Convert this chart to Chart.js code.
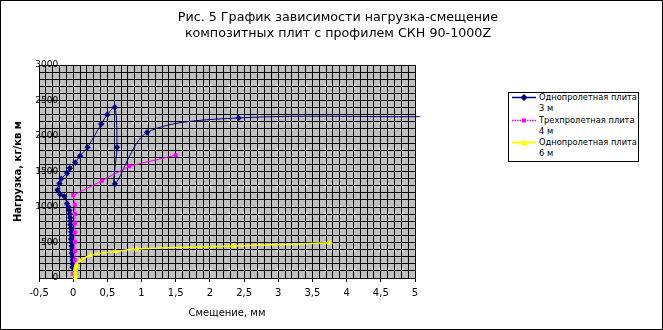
<!DOCTYPE html>
<html>
<head>
<meta charset="utf-8">
<script src="https://cdn.jsdelivr.net/npm/chart.js@4"></script>
<style>
  body { margin: 0; background: #fff; }
  #wrap { position: relative; width: 663px; height: 330px; font-family: "DejaVu Sans", sans-serif; color: #000; }
  #frame { position: absolute; left: 0; top: 0; width: 663px; height: 330px; box-sizing: border-box; border: 1px solid #000; pointer-events: none; }
  #title { position: absolute; left: 118px; width: 440px; top: 9px; text-align: center; font-size: 12.7px; line-height: 16px; }
  #legend { position: absolute; left: 508px; top: 92px; width: 131px; height: 70px; box-sizing: border-box; border: 1px solid #000; background: #fff; font-size: 8.3px; overflow: hidden; }
  .item { position: absolute; left: 0; width: 130px; height: 22px; }
  .item svg { position: absolute; left: 3px; top: 0; }
  .item .txt { position: absolute; left: 30px; top: 0; line-height: 11px; white-space: nowrap; }
</style>
</head>
<body>
<div id="wrap">
  <canvas id="grafiek" width="663" height="330"></canvas>
  <div id="title">Рис. 5 График зависимости нагрузка-смещение<br>композитных плит с профилем СКН 90-1000Z</div>
  <div id="legend"></div>
  <div id="frame"></div>
</div>
<script>
// Однопролетная плита 3 м
const plita3X = [-0.01, -0.01, -0.01, -0.015, -0.02, -0.02, -0.02, -0.025, -0.03, -0.03, -0.03, -0.035, -0.04, -0.04, -0.045, -0.05, -0.055, -0.07, -0.09, -0.13, -0.19, -0.23, -0.2, -0.175, -0.09, -0.05, 0.03, 0.1, 0.21, 0.41, 0.5, 0.61, 0.64, 0.61, 1.08, 2.42, 5.07];
const plita3Y = [150, 200, 250, 300, 350, 400, 450, 500, 550, 600, 650, 700, 750, 800, 850, 900, 950, 1000, 1050, 1150, 1180, 1240, 1330, 1400, 1475, 1545, 1625, 1720, 1840, 2170, 2300, 2405, 1840, 1325, 2050, 2255, 2272];
// Трехпролетная плита 4 м
const plita4X = [0.0, 0.025, 0.025, 0.025, 0.025, 0.025, 0.025, 0.025, 0.025, 0.0, 0.42, 0.82, 1.5];
const plita4Y = [60, 115, 250, 380, 510, 640, 770, 900, 1030, 1165, 1370, 1575, 1730];
// Однопролетная плита 6 м
const plita6X = [0.03, 0.03, 0.03, 0.035, 0.04, 0.05, 0.1, 0.25, 0.62, 0.93, 2.34, 3.76];
const plita6Y = [0, 40, 80, 120, 160, 190, 240, 320, 375, 410, 450, 498];

const reeksen = [
  { naam: ['Однопролетная плита', '3 м'], x: plita3X, y: plita3Y, kleur: '#000080', vorm: 'rectRot', straal: 3.2, dik: 1, spanning: 0.3 },
  { naam: ['Трехпролетная плита', '4 м'], x: plita4X, y: plita4Y, kleur: '#ff00ff', vorm: 'rect', straal: 2.8, dik: 1, spanning: 0 },
  { naam: ['Однопролетная плита', '6 м'], x: plita6X, y: plita6Y, kleur: '#ffff00', vorm: 'triangle', straal: 3.2, dik: 1.5, spanning: 0.3 }
];

const komma = v => String(v).replace('.', ',');
const isHoofd = (v, stap) => Math.abs(v / stap - Math.round(v / stap)) < 1e-6;

const grijsVlak = {
  id: 'grijsVlak',
  beforeDraw(chart) {
    const { ctx, chartArea: a } = chart;
    ctx.save();
    ctx.fillStyle = '#c0c0c0';
    ctx.fillRect(a.left, a.top, a.right - a.left, a.bottom - a.top);
    ctx.restore();
  }
};

// latere reeksen bovenop, zoals in Excel
const datasets = reeksen.map((r, idx) => ({
  label: r.naam.join(' '),
  data: r.x.map((x, i) => ({ x, y: r.y[i] })),
  order: reeksen.length - idx,
  showLine: true,
  borderColor: r.kleur,
  backgroundColor: r.kleur,
  borderWidth: r.dik,
  pointStyle: r.vorm,
  pointRadius: ctx => (ctx.dataIndex === r.x.length - 1 && r.x[ctx.dataIndex] > 5) ? 0 : r.straal,
  pointBorderWidth: 0,
  tension: r.spanning,
  clip: 8
}));

new Chart(document.getElementById('grafiek'), {
  type: 'scatter',
  data: { datasets },
  plugins: [grijsVlak],
  options: {
    responsive: false,
    animation: false,
    layout: { padding: { left: 0, right: 248, top: 65, bottom: 0 } },
    plugins: { legend: { display: false }, tooltip: { enabled: false } },
    scales: {
      x: {
        type: 'linear',
        min: -0.5, max: 5,
        afterFit: s => { s.height = 52; },
        ticks: {
          stepSize: 0.1, autoSkip: false, maxTicksLimit: 100, maxRotation: 0,
          padding: 5, color: '#000', font: { family: 'DejaVu Sans', size: 10 },
          callback: v => isHoofd(v, 0.5) ? komma(Math.round(v * 10) / 10) : ''
        },
        grid: {
          color: '#000', lineWidth: 1, tickLength: 4,
          tickColor: c => (c.tick && isHoofd(c.tick.value, 0.5)) ? '#000' : 'rgba(0,0,0,0)'
        },
        border: { color: '#000' },
        title: { display: true, text: 'Смещение, мм', color: '#000', font: { family: 'DejaVu Sans', size: 10 }, padding: { top: 0, bottom: 11 } }
      },
      y: {
        type: 'linear',
        // labels staan links van de nul-as, iets ervan af
        position: { x: -0.22 },
        min: 0, max: 3000,
        ticks: {
          stepSize: 100, autoSkip: false, maxTicksLimit: 100,
          color: '#000', font: { family: 'DejaVu Sans', size: 9 },
          callback: v => isHoofd(v, 500) ? String(v) : ''
        },
        grid: { color: '#000', lineWidth: 1, drawTicks: false },
        border: { display: false }
      },
      yTitel: {
        type: 'linear', position: 'left', axis: 'y',
        min: 0, max: 3000,
        afterFit: s => { s.width = 39; },
        ticks: { display: false },
        grid: { display: false, drawTicks: false },
        border: { display: false },
        title: { display: true, text: 'Нагрузка, кг/кв м', color: '#000', font: { family: 'DejaVu Sans', size: 10, weight: 'bold' }, padding: { top: 12, bottom: 0 } }
      }
    }
  }
});

// legenda
const legenda = document.getElementById('legend');
const vormSvg = (vorm, kleur) => {
  if (vorm === 'rectRot') return `<polygon points="12,2 15.5,5.5 12,9 8.5,5.5" fill="${kleur}"/>`;
  if (vorm === 'rect') return `<rect x="10" y="3.5" width="4" height="4" fill="${kleur}"/>`;
  return `<polygon points="12,2 15.5,8.5 8.5,8.5" fill="${kleur}"/>`;
};
reeksen.forEach((r, i) => {
  const el = document.createElement('div');
  el.className = 'item';
  el.style.top = (-1 + i * 22.5) + 'px';
  const streep = r.vorm === 'rect' ? 'stroke-dasharray="1.5,1"' : '';
  el.innerHTML = `<svg width="26" height="11"><line x1="0" y1="5.5" x2="24" y2="5.5" stroke="${r.kleur}" stroke-width="${r.dik + 0.5}" ${streep}/>${vormSvg(r.vorm, r.kleur)}</svg>` +
    `<div class="txt">${r.naam[0]}<br>${r.naam[1]}</div>`;
  legenda.appendChild(el);
});
</script>
</body>
</html>
